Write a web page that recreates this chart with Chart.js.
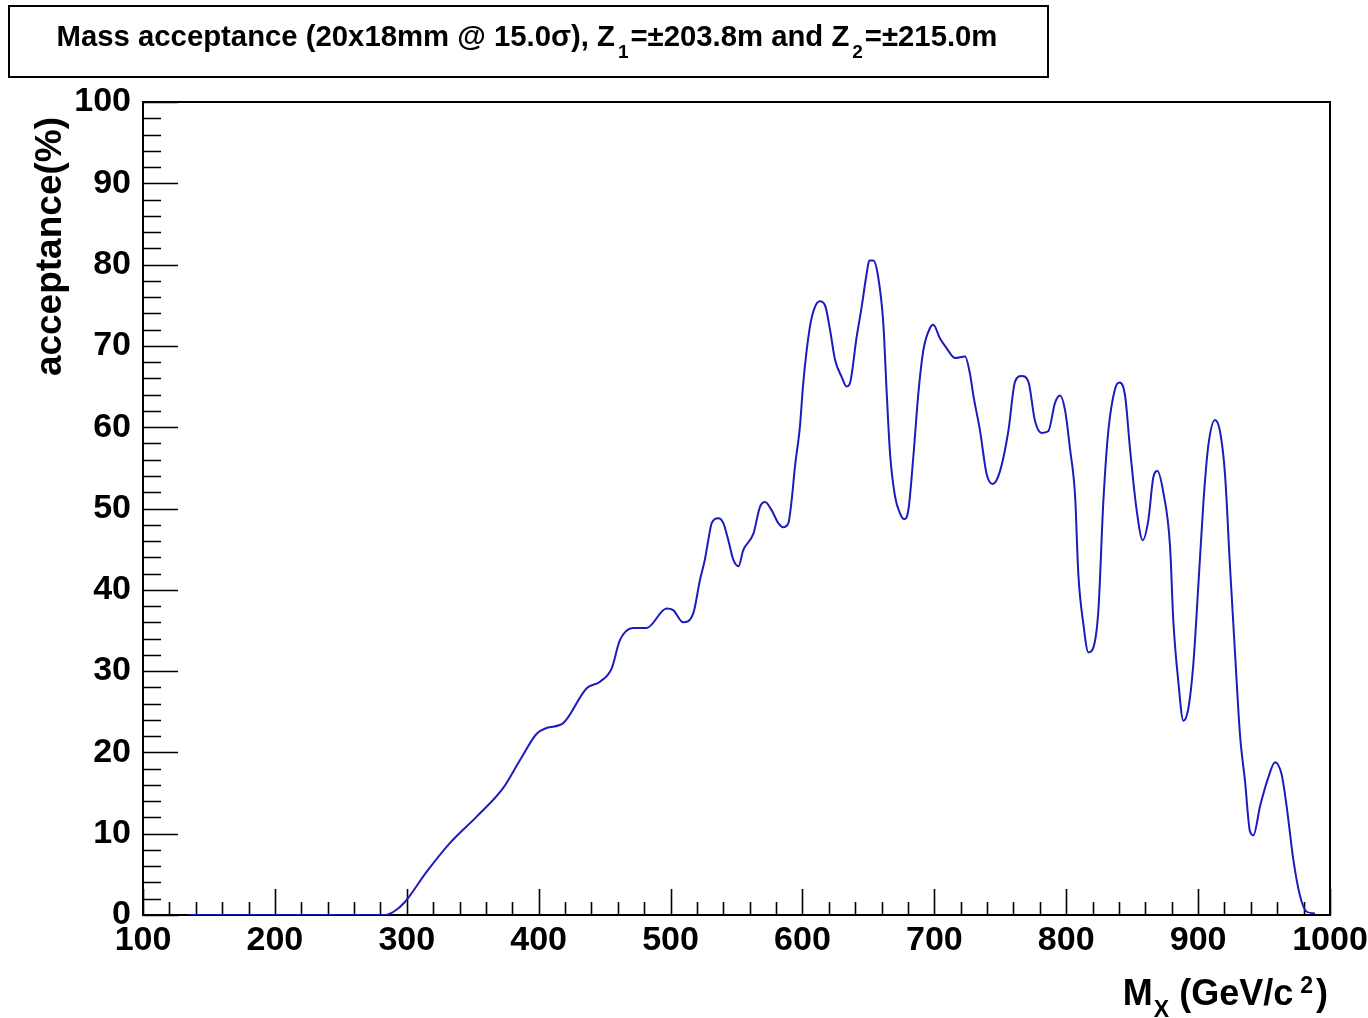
<!DOCTYPE html>
<html>
<head>
<meta charset="utf-8">
<script src="https://cdn.jsdelivr.net/npm/chart.js@4/dist/chart.umd.min.js"></script>
<style>
html,body{margin:0;padding:0;background:#fff;overflow:hidden}
#wrap{width:1368px;height:1018px;position:relative}
</style>
</head>
<body>
<div id="wrap"><canvas id="c" width="1368" height="1018"></canvas></div>
<script>
// ---- data ----
const massValues = [134,283,290,298.6,315,333,353,373,386,398.5,406,418.6,436.4,446.5,455.3,461.6,471.7,481.8,497,502,509.6,517.2,522.3,526,528.6,531.2,536.2,540,543.8,547.6,551.5,555.2,562.8,567.8,571.6,576.6,581.7,585.5,589.3,591.8,594.3,598.1,600.6,605.7,609.5,613.3,617.1,620.9,624.7,629.7,633.5,636,641.1,644.9,648.7,650.7,653.7,657,661.3,663.9,666.4,670.2,674,677,680.3,684.1,687.9,691.7,696.7,699.2,704.3,709.4,715.7,723.3,727,729.6,734.6,739.7,744.2,749.8,756.1,761.2,766.2,771.3,776.3,781.4,786.4,791.5,795.3,799.1,802.9,806.7,809.2,813,816.8,820.1,824.4,828.1,831.9,837,840.3,844.6,848.4,853.4,858,862.2,866,869.1,873.6,878.7,881.2,885,888.8,892.6,896.4,900.2,904,907.7,912.8,916.6,920.4,924.2,928,931.8,935.6,939.3,941.9,947,953.2,958.3,963.3,967.1,972.2,977.2,982.3,988.6];
const acceptanceValues = [0,0,0.4,1.6,5.3,8.9,12.1,15.6,19.1,22.3,23.0,23.6,27.9,28.7,30.3,33.8,35.3,35.3,37.7,37.5,36.0,37.1,41.2,43.7,46.1,48.2,48.8,48.2,46.1,43.7,42.9,44.9,46.9,50.2,50.8,49.8,48.2,47.7,48.2,51.0,55.1,60.1,65.4,72.4,74.8,75.5,75.0,72.0,68.3,66.2,65.0,65.4,71.1,74.8,78.9,80.5,80.5,78.9,72.8,64.2,56.8,51.5,49.4,48.7,49.8,56.4,64.2,69.5,72.2,72.6,70.9,69.7,68.5,68.7,66.6,63.9,59.6,54.2,53.0,54.6,59.5,65.6,66.3,65.6,60.8,59.3,59.5,63.0,63.9,62.1,57.3,51.6,41.9,35.8,32.3,32.7,37.5,50.7,59.5,64.7,65.5,63.9,57.3,49.8,46.1,48.5,53.8,54.6,52.0,45.4,36.2,28.7,23.9,25.4,30.9,40.6,50.7,57.7,60.9,59.5,54.2,42.8,32.2,22.1,16.4,10.3,9.8,13.4,16.9,18.8,17.3,13.4,6.8,2.4,0.4,0.2];
const xTickValues = [100,200,300,400,500,600,700,800,900,1000];
const xTickLabels = ['100','200','300','400','500','600','700','800','900','1000'];
const yTickValues = [0,10,20,30,40,50,60,70,80,90,100];
const yTickLabels = ['0','10','20','30','40','50','60','70','80','90','100'];
const xMinorStep = 20;
const yMinorStep = 2;
const titleParts = ['Mass acceptance (20x18mm @ 15.0\u03c3), Z', '1', '=\u00b1203.8m and Z', '2', '=\u00b1215.0m'];
const yTitle = 'acceptance(%)';
const xTitleParts = ['M', 'X', ' (GeV/c', '2', ')'];

// ---- styling ----
const FONT = '"Liberation Sans", Arial, Helvetica, sans-serif';
const LINE_COLOR = '#1c1cbc';

function drawRich(ctx, parts, x, y) {
  for (const p of parts) {
    ctx.font = p.font;
    x += (p.pre || 0);
    ctx.fillText(p.t, x, y + (p.dy || 0));
    x += ctx.measureText(p.t).width + (p.post || 0);
  }
}
function richWidth(ctx, parts) {
  let w = 0;
  for (const p of parts) { ctx.font = p.font; w += (p.pre || 0) + ctx.measureText(p.t).width + (p.post || 0); }
  return w;
}

const rootFrame = {
  id: 'rootFrame',
  beforeDatasetsDraw(chart) {
    const {ctx, chartArea: a, scales: {x, y}} = chart;
    ctx.save();
    ctx.strokeStyle = '#000';
    ctx.lineWidth = 2;
    ctx.strokeRect(a.left, a.top, a.right - a.left, a.bottom - a.top);
    ctx.lineWidth = 1.6;
    ctx.beginPath();
    const xmin = x.min, xmax = x.max;
    for (let i = 0; xmin + i * xMinorStep <= xmax + 1e-9; i++) {
      const v = xmin + i * xMinorStep;
      const px = Math.round(x.getPixelForValue(v)) + 0.5;
      const len = (i % 5 === 0) ? 26 : 13;
      ctx.moveTo(px, a.bottom); ctx.lineTo(px, a.bottom - len);
    }
    const ymin = y.min, ymax = y.max;
    for (let i = 0; ymin + i * yMinorStep <= ymax + 1e-9; i++) {
      const v = ymin + i * yMinorStep;
      const py = Math.round(y.getPixelForValue(v)) + 0.5;
      const len = (i % 5 === 0) ? 35 : 18;
      ctx.moveTo(a.left, py); ctx.lineTo(a.left + len, py);
    }
    ctx.stroke();
    ctx.restore();
  },
  afterDraw(chart) {
    const ctx = chart.ctx;
    ctx.save();
    ctx.fillStyle = '#000';
    ctx.strokeStyle = '#000';
    // title box
    ctx.lineWidth = 2;
    ctx.strokeRect(9, 6, 1039, 71);
    const big = 'bold 29.3px ' + FONT, small = 'bold 19px ' + FONT;
    const tp = [
      {t: titleParts[0], font: big},
      {t: titleParts[1], font: small, dy: 12, pre: 3, post: 2},
      {t: titleParts[2], font: big},
      {t: titleParts[3], font: small, dy: 12, pre: 3, post: 2},
      {t: titleParts[4], font: big}
    ];
    ctx.textBaseline = 'alphabetic';
    ctx.textAlign = 'left';
    const tw = richWidth(ctx, tp);
    drawRich(ctx, tp, 527 - tw / 2, 46);
    // y title
    ctx.save();
    ctx.translate(61, 117);
    ctx.rotate(-Math.PI / 2);
    ctx.font = 'bold 37px ' + FONT;
    ctx.textAlign = 'right';
    ctx.fillText(yTitle, 0, 0);
    ctx.restore();
    // x title
    const xb = 'bold 36px ' + FONT, xs = 'bold 23px ' + FONT;
    const xp = [
      {t: xTitleParts[0], font: xb},
      {t: xTitleParts[1], font: xs, dy: 12, pre: 1},
      {t: xTitleParts[2], font: xb},
      {t: xTitleParts[3], font: xs, dy: -12, pre: 7, post: 3},
      {t: xTitleParts[4], font: xb}
    ];
    ctx.textAlign = 'left';
    const xw = richWidth(ctx, xp);
    drawRich(ctx, xp, 1328 - xw, 1005);
    ctx.restore();
  }
};

const points = massValues.map((m, i) => ({x: m, y: acceptanceValues[i]}));

new Chart(document.getElementById('c'), {
  type: 'line',
  data: {
    datasets: [{
      data: points,
      borderColor: LINE_COLOR,
      borderWidth: 2,
      pointRadius: 0,
      fill: false,
      cubicInterpolationMode: 'monotone'
    }]
  },
  options: {
    responsive: false,
    animation: false,
    devicePixelRatio: 1,
    layout: {padding: {top: 102, right: 38, left: 0, bottom: 0}},
    plugins: {legend: {display: false}, title: {display: false}, tooltip: {enabled: false}},
    scales: {
      x: {
        type: 'linear',
        min: 100, max: 1000,
        grid: {display: false, drawTicks: false},
        border: {display: false},
        afterFit(s) { s.height = 103; s.paddingLeft = 0; s.paddingRight = 0; },
        afterBuildTicks(s) { s.ticks = xTickValues.map(v => ({value: v})); },
        ticks: {
          autoSkip: false, maxRotation: 0, padding: 5,
          color: '#000',
          font: {family: FONT, size: 34, weight: 'bold'},
          callback: (v, i) => xTickLabels[i]
        }
      },
      y: {
        type: 'linear',
        min: 0, max: 100,
        grid: {display: false, drawTicks: false},
        border: {display: false},
        afterFit(s) { s.width = 143; s.paddingTop = 0; s.paddingBottom = 0; },
        afterBuildTicks(s) { s.ticks = yTickValues.map(v => ({value: v})); },
        ticks: {
          autoSkip: false, padding: 12,
          color: '#000',
          font: {family: FONT, size: 34, weight: 'bold'},
          callback: (v, i) => yTickLabels[i]
        }
      }
    }
  },
  plugins: [rootFrame]
});
</script>
</body>
</html>
